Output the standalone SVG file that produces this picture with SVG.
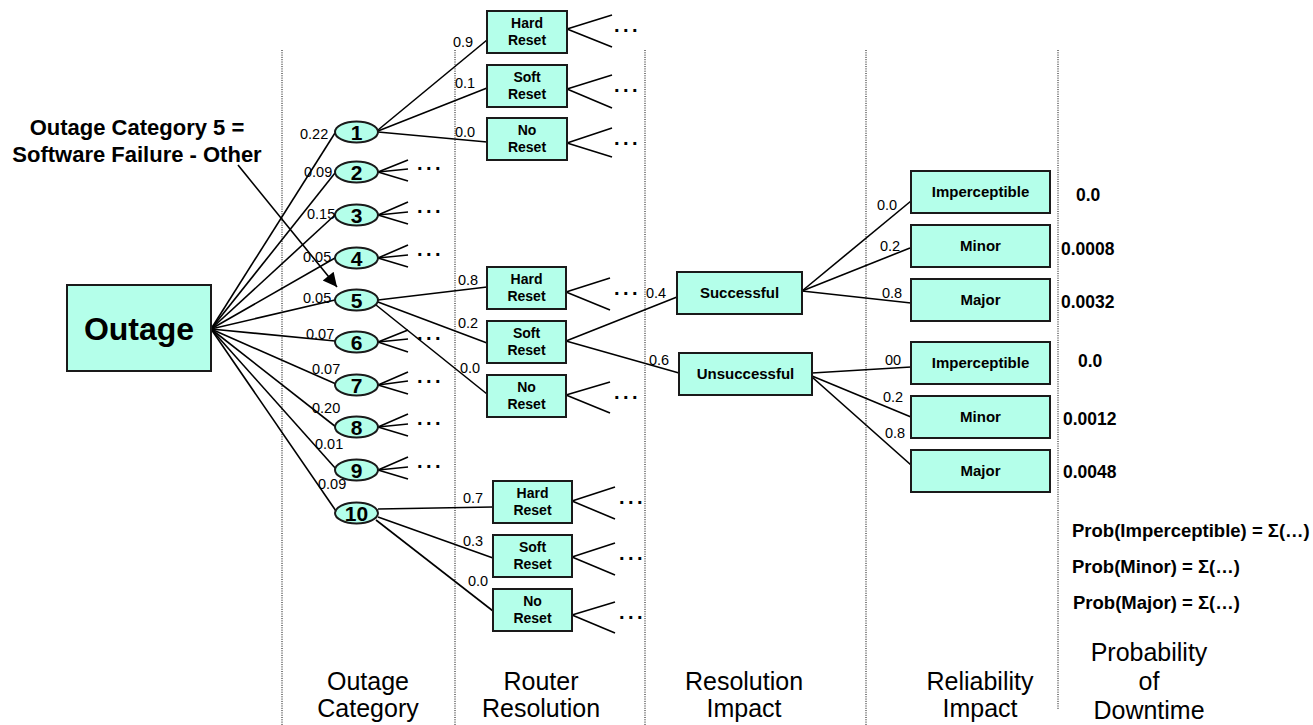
<svg xmlns="http://www.w3.org/2000/svg" width="1313" height="725" viewBox="0 0 1313 725">
<style>
text{font-family:"Liberation Sans",Arial,sans-serif;fill:#000}
.lbl{font-size:14.5px}
.num{font-size:21px;font-weight:bold;text-anchor:middle}
.bx{font-size:14px;font-weight:bold;text-anchor:middle}
.bx15{font-size:15px;font-weight:bold;text-anchor:middle}
.val{font-size:17.5px;font-weight:bold}
.prob{font-size:18.5px;font-weight:bold}
.axis{font-size:25px;text-anchor:middle}
.note{font-size:22px;font-weight:bold;text-anchor:middle}
.dots{font-size:20px;font-weight:bold;letter-spacing:3.5px}
.node rect,.node ellipse{fill:#b4ffea;stroke:#1a1a1a;stroke-width:2}
.conn line{stroke:#000;stroke-width:1.6}
.grid line{stroke:#000;stroke-width:1;stroke-dasharray:1 1.3}
</style>
<defs>
<marker id="ah" viewBox="0 0 10 10" refX="10" refY="5" markerWidth="17" markerHeight="14" markerUnits="userSpaceOnUse" orient="auto">
<path d="M0,0 L10,5 L0,10 z" fill="#000"/>
</marker>
</defs>

<g class="grid">
<line x1="282" y1="50" x2="282" y2="725"/>
<line x1="455" y1="50" x2="455" y2="725"/>
<line x1="645" y1="50" x2="645" y2="725"/>
<line x1="866" y1="50" x2="866" y2="725"/>
<line x1="1058" y1="50" x2="1058" y2="710"/>
</g>

<g class="conn">
<line x1="211" y1="329" x2="335" y2="133"/>
<line x1="211" y1="329" x2="335" y2="173"/>
<line x1="211" y1="329" x2="335" y2="215"/>
<line x1="211" y1="329" x2="335" y2="258"/>
<line x1="211" y1="329" x2="335" y2="300"/>
<line x1="211" y1="329" x2="335" y2="341"/>
<line x1="211" y1="329" x2="336" y2="384"/>
<line x1="211" y1="329" x2="336" y2="427"/>
<line x1="211" y1="329" x2="336" y2="469"/>
<line x1="211" y1="329" x2="336" y2="511"/>
<line x1="378" y1="172" x2="408" y2="160"/><line x1="378" y1="172" x2="408" y2="169"/><line x1="378" y1="172" x2="408" y2="181"/>
<line x1="378" y1="215" x2="408" y2="202"/><line x1="378" y1="215" x2="408" y2="212"/><line x1="378" y1="215" x2="408" y2="224"/>
<line x1="378" y1="258" x2="408" y2="245"/><line x1="378" y1="258" x2="408" y2="255"/><line x1="378" y1="258" x2="408" y2="267"/>
<line x1="378" y1="342" x2="408" y2="330"/><line x1="378" y1="342" x2="408" y2="339"/><line x1="378" y1="342" x2="408" y2="352"/>
<line x1="378" y1="385" x2="408" y2="372"/><line x1="378" y1="385" x2="408" y2="381"/><line x1="378" y1="385" x2="408" y2="394"/>
<line x1="378" y1="427" x2="408" y2="414"/><line x1="378" y1="427" x2="408" y2="424"/><line x1="378" y1="427" x2="408" y2="436"/>
<line x1="378" y1="470" x2="408" y2="457"/><line x1="378" y1="470" x2="408" y2="467"/><line x1="378" y1="470" x2="408" y2="479"/>
<line x1="378" y1="130" x2="487" y2="40"/>
<line x1="378" y1="131" x2="487" y2="88"/>
<line x1="378" y1="132" x2="487" y2="142"/>
<line x1="378" y1="300" x2="487" y2="287"/>
<line x1="378" y1="302" x2="487" y2="343"/>
<line x1="376" y1="305" x2="487" y2="394"/>
<line x1="378" y1="509" x2="493" y2="507"/>
<line x1="378" y1="517" x2="493" y2="558"/>
<line x1="376" y1="520" x2="493" y2="611"/>
<line x1="567" y1="29" x2="612" y2="15"/><line x1="567" y1="29" x2="612" y2="47"/>
<line x1="567" y1="89" x2="612" y2="75"/><line x1="567" y1="89" x2="612" y2="108"/>
<line x1="567" y1="143" x2="612" y2="128"/><line x1="567" y1="143" x2="612" y2="157"/>
<line x1="566" y1="292" x2="610" y2="278"/><line x1="566" y1="292" x2="610" y2="310"/>
<line x1="566" y1="395" x2="610" y2="382"/><line x1="566" y1="395" x2="610" y2="413"/>
<line x1="566" y1="341" x2="677" y2="297"/>
<line x1="566" y1="341" x2="679" y2="373"/>
<line x1="572" y1="501" x2="615" y2="487"/><line x1="572" y1="501" x2="615" y2="519"/>
<line x1="572" y1="557" x2="615" y2="543"/><line x1="572" y1="557" x2="615" y2="575"/>
<line x1="572" y1="615" x2="615" y2="602"/><line x1="572" y1="615" x2="615" y2="633"/>
<line x1="802" y1="291" x2="911" y2="201"/>
<line x1="802" y1="291" x2="910" y2="248"/>
<line x1="802" y1="291" x2="911" y2="303"/>
<line x1="812" y1="373" x2="911" y2="367"/>
<line x1="812" y1="376" x2="911" y2="417"/>
<line x1="812" y1="377" x2="911" y2="465"/>
<line x1="238" y1="165" x2="337" y2="287" marker-end="url(#ah)"/>
</g>

<g id="outage" class="node"><rect x="67" y="285" width="144" height="86"/><text x="139" y="340" style="font-size:32px;font-weight:bold;text-anchor:middle">Outage</text></g>

<g id="cat1" class="node"><ellipse cx="356.5" cy="132" rx="21.5" ry="10.5"/><text class="num" x="356.5" y="139.5">1</text></g>
<g id="cat2" class="node"><ellipse cx="356.5" cy="172" rx="21.5" ry="10.5"/><text class="num" x="356.5" y="179.5">2</text></g>
<g id="cat3" class="node"><ellipse cx="356.5" cy="215" rx="21.5" ry="10.5"/><text class="num" x="356.5" y="222.5">3</text></g>
<g id="cat4" class="node"><ellipse cx="356.5" cy="258" rx="21.5" ry="10.5"/><text class="num" x="356.5" y="265.5">4</text></g>
<g id="cat5" class="node"><ellipse cx="356.5" cy="300" rx="21.5" ry="10.5"/><text class="num" x="356.5" y="307.5">5</text></g>
<g id="cat6" class="node"><ellipse cx="356.5" cy="342" rx="21.5" ry="10.5"/><text class="num" x="356.5" y="349.5">6</text></g>
<g id="cat7" class="node"><ellipse cx="356.5" cy="385" rx="21.5" ry="10.5"/><text class="num" x="356.5" y="392.5">7</text></g>
<g id="cat8" class="node"><ellipse cx="356.5" cy="427" rx="21.5" ry="10.5"/><text class="num" x="356.5" y="434.5">8</text></g>
<g id="cat9" class="node"><ellipse cx="356.5" cy="470" rx="21.5" ry="10.5"/><text class="num" x="356.5" y="477.5">9</text></g>
<g id="cat10" class="node"><ellipse cx="356.5" cy="513" rx="21.5" ry="10.5"/><text class="num" x="356.5" y="520.5">10</text></g>

<g id="hard1" class="node"><rect x="487" y="11" width="80" height="42"/><text class="bx" x="527" y="28">Hard</text><text class="bx" x="527" y="45">Reset</text></g>
<g id="soft1" class="node"><rect x="487" y="65" width="80" height="42"/><text class="bx" x="527" y="82">Soft</text><text class="bx" x="527" y="99">Reset</text></g>
<g id="no1" class="node"><rect x="487" y="118" width="80" height="42"/><text class="bx" x="527" y="135">No</text><text class="bx" x="527" y="152">Reset</text></g>

<g id="hard5" class="node"><rect x="487" y="267" width="79" height="42"/><text class="bx" x="526.5" y="284">Hard</text><text class="bx" x="526.5" y="301">Reset</text></g>
<g id="soft5" class="node"><rect x="487" y="321" width="79" height="42"/><text class="bx" x="526.5" y="338">Soft</text><text class="bx" x="526.5" y="355">Reset</text></g>
<g id="no5" class="node"><rect x="487" y="375" width="79" height="42"/><text class="bx" x="526.5" y="392">No</text><text class="bx" x="526.5" y="409">Reset</text></g>

<g id="hard10" class="node"><rect x="493" y="481" width="79" height="42"/><text class="bx" x="532.5" y="498">Hard</text><text class="bx" x="532.5" y="515">Reset</text></g>
<g id="soft10" class="node"><rect x="493" y="535" width="79" height="42"/><text class="bx" x="532.5" y="552">Soft</text><text class="bx" x="532.5" y="569">Reset</text></g>
<g id="no10" class="node"><rect x="493" y="589" width="79" height="42"/><text class="bx" x="532.5" y="606">No</text><text class="bx" x="532.5" y="623">Reset</text></g>

<g id="successful" class="node"><rect x="677" y="272" width="125" height="42"/><text class="bx15" x="739.5" y="298">Successful</text></g>
<g id="unsuccessful" class="node"><rect x="679" y="353" width="133" height="42"/><text class="bx15" x="745.5" y="379">Unsuccessful</text></g>

<g id="imp1" class="node"><rect x="911" y="171" width="139" height="42"/><text class="bx15" x="980.5" y="197">Imperceptible</text></g>
<g id="minor1" class="node"><rect x="911" y="225" width="139" height="42"/><text class="bx15" x="980.5" y="251">Minor</text></g>
<g id="major1" class="node"><rect x="911" y="279" width="139" height="42"/><text class="bx15" x="980.5" y="305">Major</text></g>
<g id="imp2" class="node"><rect x="911" y="342" width="139" height="42"/><text class="bx15" x="980.5" y="368">Imperceptible</text></g>
<g id="minor2" class="node"><rect x="911" y="396" width="139" height="42"/><text class="bx15" x="980.5" y="422">Minor</text></g>
<g id="major2" class="node"><rect x="911" y="450" width="139" height="42"/><text class="bx15" x="980.5" y="476">Major</text></g>

<g id="labels">
<text class="lbl" x="300" y="139">0.22</text>
<text class="lbl" x="304" y="177">0.09</text>
<text class="lbl" x="307" y="219">0.15</text>
<text class="lbl" x="303" y="262">0.05</text>
<text class="lbl" x="303" y="303">0.05</text>
<text class="lbl" x="306" y="339">0.07</text>
<text class="lbl" x="312" y="374">0.07</text>
<text class="lbl" x="312" y="413">0.20</text>
<text class="lbl" x="315" y="449">0.01</text>
<text class="lbl" x="318" y="489">0.09</text>
<text class="lbl" x="453" y="47">0.9</text>
<text class="lbl" x="455" y="88">0.1</text>
<text class="lbl" x="455" y="137">0.0</text>
<text class="lbl" x="458" y="285">0.8</text>
<text class="lbl" x="458" y="328">0.2</text>
<text class="lbl" x="460" y="373">0.0</text>
<text class="lbl" x="463" y="503">0.7</text>
<text class="lbl" x="463" y="546">0.3</text>
<text class="lbl" x="468" y="586">0.0</text>
<text class="lbl" x="646" y="298">0.4</text>
<text class="lbl" x="649" y="365">0.6</text>
<text class="lbl" x="877" y="210">0.0</text>
<text class="lbl" x="880" y="251">0.2</text>
<text class="lbl" x="882" y="298">0.8</text>
<text class="lbl" x="885" y="365">00</text>
<text class="lbl" x="883" y="402">0.2</text>
<text class="lbl" x="885" y="438">0.8</text>
</g>

<g id="ellipses">
<text class="dots" x="417" y="170">...</text>
<text class="dots" x="417" y="213">...</text>
<text class="dots" x="417" y="256">...</text>
<text class="dots" x="417" y="340">...</text>
<text class="dots" x="417" y="383">...</text>
<text class="dots" x="417" y="425">...</text>
<text class="dots" x="417" y="468">...</text>
<text class="dots" x="614" y="32">...</text>
<text class="dots" x="614" y="92">...</text>
<text class="dots" x="614" y="145">...</text>
<text class="dots" x="614" y="295">...</text>
<text class="dots" x="614" y="399">...</text>
<text class="dots" x="619" y="504">...</text>
<text class="dots" x="619" y="560">...</text>
<text class="dots" x="619" y="619">...</text>
</g>

<g id="note">
<text class="note" x="137" y="135">Outage Category 5 =</text>
<text class="note" x="137" y="162">Software Failure - Other</text>
</g>

<g id="values">
<text class="val" x="1076" y="201">0.0</text>
<text class="val" x="1061" y="255">0.0008</text>
<text class="val" x="1061" y="308">0.0032</text>
<text class="val" x="1078" y="367">0.0</text>
<text class="val" x="1063" y="425">0.0012</text>
<text class="val" x="1063" y="478">0.0048</text>
<text class="prob" x="1072" y="537">Prob(Imperceptible) = Σ(…)</text>
<text class="prob" x="1072" y="573">Prob(Minor) = Σ(…)</text>
<text class="prob" x="1073" y="609">Prob(Major) = Σ(…)</text>
</g>

<g id="axis">
<text class="axis" x="368" y="690">Outage</text>
<text class="axis" x="368" y="717">Category</text>
<text class="axis" x="541" y="690">Router</text>
<text class="axis" x="541" y="717">Resolution</text>
<text class="axis" x="744" y="690">Resolution</text>
<text class="axis" x="744" y="717">Impact</text>
<text class="axis" x="980" y="690">Reliability</text>
<text class="axis" x="980" y="717">Impact</text>
<text class="axis" x="1149" y="661">Probability</text>
<text class="axis" x="1149" y="690">of</text>
<text class="axis" x="1149" y="719">Downtime</text>
</g>
</svg>
